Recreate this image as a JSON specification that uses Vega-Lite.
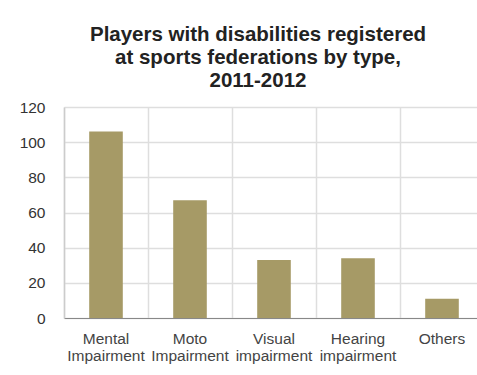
{
  "$schema": "https://vega.github.io/schema/vega-lite/v6.json",
  "width": 420,
  "height": 211,
  "autosize": "none",
  "padding": {"left": 64, "top": 107, "right": 0, "bottom": 57},
  "background": "white",
  "config": {
    "view": {"stroke": null},
    "font": "Liberation Sans"
  },
  "title": {
    "text": ["Players with disabilities registered", "at sports federations by type,", "2011-2012"],
    "fontSize": 20.5,
    "fontWeight": "bold",
    "color": "#222222",
    "font": "Liberation Sans",
    "anchor": "middle",
    "frame": "group",
    "dx": -16,
    "offset": 9,
    "lineHeight": 23
  },
  "data": {
    "values": [
      {"type": "Mental Impairment", "players": 106},
      {"type": "Moto Impairment", "players": 67},
      {"type": "Visual impairment", "players": 33},
      {"type": "Hearing impairment", "players": 34},
      {"type": "Others", "players": 11}
    ]
  },
  "mark": {"type": "bar", "color": "#a69a66", "width": {"band": 0.4}},
  "encoding": {
    "x": {
      "field": "type",
      "type": "nominal",
      "sort": null,
      "title": null,
      "scale": {"paddingInner": 0, "paddingOuter": 0},
      "axis": {
        "labelAngle": 0,
        "labelExpr": "split(datum.label, ' ')",
        "labelOverlap": false,
        "labelFontSize": 15.5,
        "labelColor": "#444444",
        "labelLineHeight": 17,
        "labelPadding": 13,
        "labelBaseline": "top",
        "ticks": false,
        "grid": true,
        "bandPosition": 0,
        "gridColor": "#dedede",
        "gridWidth": 1.5,
        "domainColor": "#888888",
        "domainWidth": 1
      }
    },
    "y": {
      "field": "players",
      "type": "quantitative",
      "title": null,
      "scale": {"domain": [0, 120]},
      "axis": {
        "values": [0, 20, 40, 60, 80, 100, 120],
        "labelFontSize": 15.5,
        "labelColor": "#333333",
        "labelPadding": 19,
        "ticks": false,
        "gridColor": "#dedede",
        "gridWidth": 1.5,
        "domainColor": "#cccccc",
        "domainWidth": 1.5
      }
    }
  }
}
